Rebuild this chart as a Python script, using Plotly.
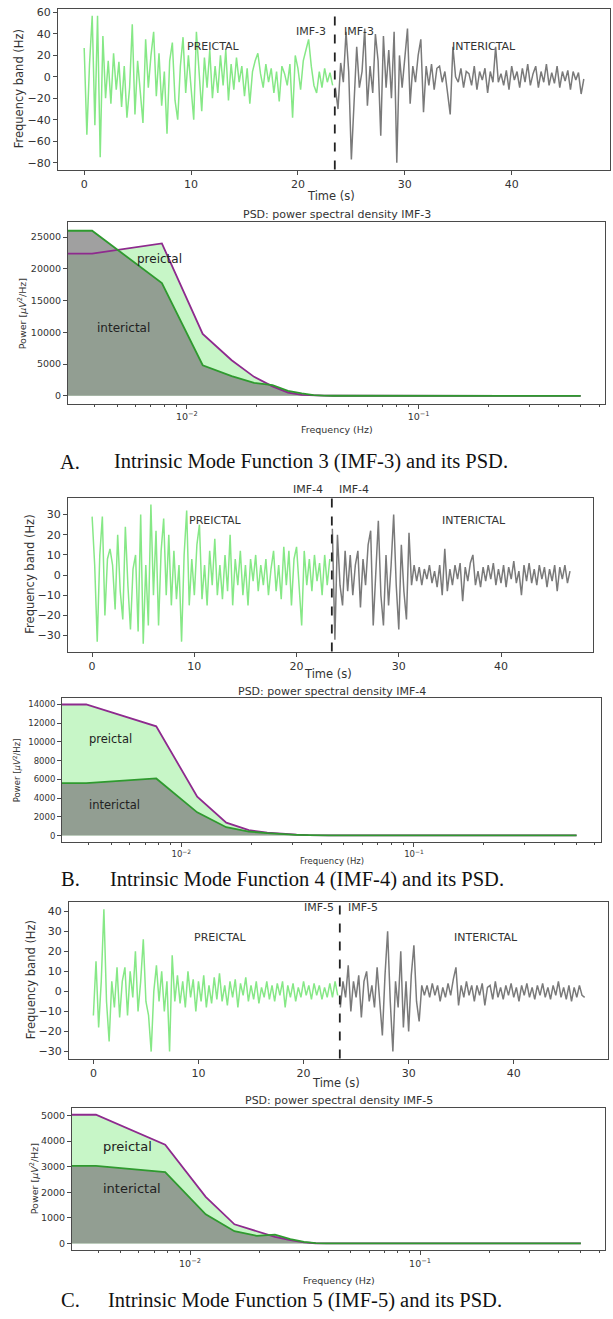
import numpy as np
import plotly.graph_objects as go

W, H = 613, 1319
FONT = "DejaVu Sans"

# ---------------- data ----------------
SAMPLE_STEP = 0.25          # s between samples
PRE_START = 0.0             # s
INTER_START = 23.5          # s
SEIZURE_SPLIT = 23.45       # s (dashed line)

imf3_pre = [27, -54, 12, 57, -45, 57, -75, 38, -20, 15,
            -25, 22, -12, 14, -28, 10, -38, -10, 49, -35,
            15, -12, -43, 35, -10, 20, 42, -18, 22, -27,
            5, -53, 15, 32, -22, -40, 10, 37, -15, 20,
            -8, -40, 42, 5, -32, 18, -10, 25, -20, 10,
            -15, 20, -8, 25, -22, 12, -12, 18, -5, 10,
            -18, 8, -25, 5, 15, 22, 3, -10, 12, -5,
            8, -15, 5, -23, 10, 3, -8, 12, -38, 20,
            8, -12, 15, 25, 35, 10, -8, -15, 5, -10,
            8, -5, 4, -8]
imf3_inter = [-10, -30, 13, -5, 42, 5, -77, -30, 28, -10,
              5, 45, -27, 10, -15, 40, 15, -55, 38, -10,
              25, -20, 42, -80, 20, -10, 15, 45, -25, 10,
              -5, 20, 35, -33, 10, -8, 12, -12, 8, 10,
              -5, 5, -15, -35, 28, 0, -5, 8, -10, 5,
              3, -8, 10, -12, 5, -3, 8, -15, 5, -5,
              28, -5, 3, -8, 6, -12, 10, -3, 5, -10,
              8, -5, 12, -8, 3, 10, -10, 5, -5, 12,
              -8, 4, -6, 10, -10, 5, -4, 6, -12, 5,
              -3, 4, -16, -2]
imf4_pre = [29, 5, -33, 10, 29, -20, 8, 13, 5, -17,
            20, -8, -22, 24, -5, -27, 3, 10, -28, 30,
            -34, 5, -25, 35, -10, 22, -25, 12, 28, -10,
            20, -15, 12, -12, 5, -33, 10, 32, -15, 8,
            -10, 15, 25, -12, 5, -15, 12, -5, 18, -10,
            5, -12, 10, -8, 20, -15, 8, -5, 12, -10,
            5, -15, 8, -3, 10, -8, 5, -5, 8, -10,
            3, 12, -8, 5, -12, 14, -5, 12, -15, 8,
            14, -5, -25, 12, -5, 8, -8, 10, -3, 6,
            -10, 10, -5, 8]
imf4_inter = [23, -32, 20, -5, -15, 12, -8, 10, -10, 5,
              12, -16, 8, -5, 15, 22, -25, 5, 27, -10,
              -25, 10, -15, 5, 30, -5, -27, 15, -8, -22,
              21, -5, 5, -3, 4, -5, 3, -2, 5, -4,
              2, -6, 5, -10, 13, -8, 3, -5, 5, -2,
              6, -13, 4, -3, 6, 10, -5, 2, -6, 4,
              -3, 5, -2, 6, -5, 3, -4, 5, -6, 4,
              -2, 7, -4, 2, -10, 5, -3, 6, -4, 3,
              -5, 5, -2, 4, -6, 3, -3, 5, -8, 4,
              -2, 5, -4, 2]
imf5_pre = [-12, 15, -18, 5, 41, -5, -25, 5, -8, 12,
            -13, 5, 12, -12, 10, -3, 20, -10, 5, 26,
            -5, -12, -30, 0, 13, -5, 10, -10, 5, -30,
            18, -5, 8, -6, 5, -8, 10, -3, 6, -10,
            5, -5, 8, -8, 3, -6, 7, -4, 9, -5,
            3, -7, 5, -3, 6, -8, 4, -2, 7, -5,
            3, -4, 5, -6, 2, -3, 5, -4, 3, -5,
            4, -2, 5, -8, 3, -3, 4, -5, 2, -3,
            5, -2, 3, -4, 4, -2, 3, -4, 2, -3,
            4, -3, 5, -2]
imf5_inter = [-8, 5, -3, 13, -10, 5, -3, 8, -13, 5,
              10, -5, 3, -8, 12, -5, -22, 8, 30, -5,
              -30, 5, -8, 20, -18, 5, -20, 8, 23, -5,
              -15, 3, -2, 3, -3, 4, -2, 3, -5, 2,
              -3, 4, -2, 6, 12, -7, 3, -3, 5, -2,
              3, -5, 3, -2, 4, -7, 2, 3, -4, 5,
              -3, 2, -4, 3, -2, 4, -3, 2, -5, 3,
              -2, 4, -3, 2, -4, 3, -2, 4, -3, 2,
              -4, 3, -2, 5, -3, 2, -4, 3, -5, 2,
              -3, 3, -2, -3]

# PSD (first entry stands in for the DC bin, drawn at the left edge of the log axis)
psd_freq = [0.003, 0.0039, 0.0078, 0.0117, 0.0156, 0.0195, 0.0234, 0.0273,
            0.0313, 0.0352, 0.0391, 0.0430, 0.5]
psd3_pre = [22400, 22400, 24000, 9750, 5600, 2990, 1500, 500, 150, 50, 20, 10, 5]
psd3_inter = [26000, 26000, 17770, 4820, 3090, 2040, 1680, 790, 370, 100, 30, 10, 5]
psd4_pre = [14000, 14000, 11670, 4150, 1380, 570, 320, 180, 100, 50, 30, 20, 10]
psd4_inter = [5600, 5600, 6100, 2480, 890, 430, 250, 140, 80, 40, 25, 15, 10]
psd5_pre = [5030, 5030, 3860, 1820, 750, 480, 260, 130, 40, 10, 5, 3, 2]
psd5_inter = [3030, 3030, 2790, 1140, 480, 300, 350, 170, 60, 15, 5, 3, 2]

time_ticks = [0, 10, 20, 30, 40]
psd_ticks = [0.01, 0.1]
psd_ticktext = ["10<sup>\u22122</sup>", "10<sup>\u22121</sup>"]

# ---------------- styling ----------------
C_PRE = "#86e886"
C_INTER = "#7a7a7a"
C_PURPLE = "#8e2a8e"
C_GREEN = "#2f9a2f"
FILL_PRE = "rgba(144,238,144,0.5)"
FILL_INTER = "rgba(128,128,128,0.75)"
SPINE = "#4a4a4a"
TXT = "#333333"


def xd(l, r):
    return [l / W, r / W]


def yd(t, b):
    return [1 - b / H, 1 - t / H]


def px(x):
    return x / W


def py(y):
    return 1 - y / H


def note(x, y, text, size, color=TXT, family=FONT, angle=0, xanchor="center", xref="paper", yref="paper"):
    return dict(x=x, y=y, xref=xref, yref=yref, text=text, showarrow=False, textangle=angle,
                xanchor=xanchor, yanchor="middle", font=dict(family=family, size=size, color=color))


fig = go.Figure()
annotations = []
shapes = []

time_panels = [
    dict(n=1, pre=imf3_pre, inter=imf3_inter, lbl="IMF-3", xdom=(58, 610), ydom=(6, 167),
         xr=[-2.45, 49.2], yr=[-86.5, 63.3], ytick=list(range(-80, 61, 20)),
         imf_y=42.6, imf_x=(21.2, 25.7), state_y=28, ytitle_x=19, xt_y=193, tfs=11),
    dict(n=3, pre=imf4_pre, inter=imf4_inter, lbl="IMF-4", xdom=(68, 593), ydom=(496, 650),
         xr=[-2.36, 49.0], yr=[-37.9, 38.3], ytick=list(range(-30, 31, 10)),
         imf_y=42.3, imf_x=(21.1, 25.6), state_y=26.9, ytitle_x=30, xt_y=673, tfs=11),
    dict(n=5, pre=imf5_pre, inter=imf5_inter, lbl="IMF-5", xdom=(69, 608), ydom=(901, 1058),
         xr=[-2.32, 48.97], yr=[-33.5, 44.6], ytick=list(range(-30, 41, 10)),
         imf_y=42, imf_x=(21.5, 25.7), state_y=26.7, ytitle_x=31, xt_y=1082, tfs=11),
]

for p in time_panels:
    n = p["n"]
    xa = "x" if n == 1 else f"x{n}"
    ya = "y" if n == 1 else f"y{n}"
    t_pre = PRE_START + SAMPLE_STEP * np.arange(len(p["pre"]))
    t_int = INTER_START + SAMPLE_STEP * np.arange(len(p["inter"]))
    fig.add_trace(go.Scatter(x=t_pre, y=p["pre"], mode="lines", line=dict(color=C_PRE, width=1.5),
                             xaxis=xa, yaxis=ya, showlegend=False))
    fig.add_trace(go.Scatter(x=t_int, y=p["inter"], mode="lines", line=dict(color=C_INTER, width=1.5),
                             xaxis=xa, yaxis=ya, showlegend=False))
    shapes.append(dict(type="line", xref=xa, yref=f"{ya} domain", x0=SEIZURE_SPLIT,
                       x1=SEIZURE_SPLIT, y0=0, y1=1, line=dict(color="#222", width=1.8, dash="dash")))
    axx = dict(domain=xd(*p["xdom"]), range=p["xr"], anchor=ya, tickvals=time_ticks,
               ticks="outside", ticklen=4, tickcolor=SPINE, showline=True, mirror=True,
               linecolor=SPINE, linewidth=1, showgrid=False, zeroline=False,
               tickfont=dict(family=FONT, size=p["tfs"], color=TXT))
    axy = dict(domain=yd(*p["ydom"]), range=p["yr"], anchor=xa, tickvals=p["ytick"],
               ticks="outside", ticklen=4, tickcolor=SPINE, showline=True, mirror=True,
               linecolor=SPINE, linewidth=1, showgrid=False, zeroline=False,
               tickfont=dict(family=FONT, size=p["tfs"], color=TXT))
    fig.update_layout({("xaxis" if n == 1 else f"xaxis{n}"): axx,
                       ("yaxis" if n == 1 else f"yaxis{n}"): axy})
    y0, y1 = p["yr"]
    for xv, txt in [(p["imf_x"][0], p["lbl"]), (p["imf_x"][1], p["lbl"]),
                    (12.1, "PREICTAL"), (37.4, "INTERICTAL")]:
        yv = p["imf_y"] if txt == p["lbl"] else p["state_y"]
        annotations.append(note(xv, (yv - y0) / (y1 - y0), txt, 11, xref=xa, yref=f"{ya} domain"))
    cx = (p["xdom"][0] + p["xdom"][1]) / 2
    cy = (p["ydom"][0] + p["ydom"][1]) / 2
    annotations.append(note(px(p["ytitle_x"]), py(cy), "Frequency band (Hz)", 11.5, angle=-90))
    annotations.append(note(px(cx - 3), py(p["xt_y"]), "Time (s)", 11.5))

minor_vals = [k * 10.0 ** e for e in (-3, -2, -1) for k in range(2, 10)]

psd_panels = [
    dict(n=2, pre=psd3_pre, inter=psd3_inter, lbl="IMF-3", xdom=(68, 605), ydom=(220, 402),
         yr=[-1300, 27300], ydt=5000, title_y=212, xl_y=427, ytitle_x=22, fs=9.5,
         pre_lbl=(0.00597, 21600), int_lbl=(0.00401, 10700), lfs=12),
    dict(n=4, pre=psd4_pre, inter=psd4_inter, lbl="IMF-4", xdom=(62, 601), ydom=(697, 841),
         yr=[-700, 14650], ydt=2000, title_y=690, xl_y=860, ytitle_x=17, fs=8.5,
         pre_lbl=(0.00392, 10280), int_lbl=(0.00392, 3260), lfs=11.5),
    dict(n=6, pre=psd5_pre, inter=psd5_inter, lbl="IMF-5", xdom=(72, 605), ydom=(1108, 1250),
         yr=[-260, 5275], ydt=1000, title_y=1100, xl_y=1280, ytitle_x=34, fs=9.5,
         pre_lbl=(0.00412, 3800), int_lbl=(0.00412, 2140), lfs=13),
]

for p in psd_panels:
    n = p["n"]
    xa, ya = f"x{n}", f"y{n}"
    fig.add_trace(go.Scatter(x=psd_freq, y=p["pre"], mode="none", fill="tozeroy",
                             fillcolor=FILL_PRE, xaxis=xa, yaxis=ya, showlegend=False))
    fig.add_trace(go.Scatter(x=psd_freq, y=p["inter"], mode="none", fill="tozeroy",
                             fillcolor=FILL_INTER, xaxis=xa, yaxis=ya, showlegend=False))
    fig.add_trace(go.Scatter(x=psd_freq, y=p["pre"], mode="lines", line=dict(color=C_PURPLE, width=1.8),
                             xaxis=xa, yaxis=ya, showlegend=False))
    fig.add_trace(go.Scatter(x=psd_freq, y=p["inter"], mode="lines", line=dict(color=C_GREEN, width=1.8),
                             xaxis=xa, yaxis=ya, showlegend=False))
    axx = dict(domain=xd(*p["xdom"]), type="log", range=[-2.513, -0.196], anchor=ya,
               tickvals=psd_ticks, ticktext=psd_ticktext, ticks="outside", ticklen=4,
               tickcolor=SPINE, showline=True, mirror=True, linecolor=SPINE, linewidth=1,
               showgrid=False, zeroline=False, tickfont=dict(family=FONT, size=p["fs"], color=TXT),
               minor=dict(tickvals=minor_vals, ticks="outside", ticklen=2, tickcolor=SPINE, showgrid=False))
    axy = dict(domain=yd(*p["ydom"]), range=p["yr"], anchor=xa, dtick=p["ydt"], tick0=0,
               tickformat="d", ticks="outside", ticklen=4, tickcolor=SPINE, showline=True, mirror=True,
               linecolor=SPINE, linewidth=1, showgrid=False, zeroline=False,
               tickfont=dict(family=FONT, size=p["fs"], color=TXT))
    fig.update_layout({f"xaxis{n}": axx, f"yaxis{n}": axy})
    cx = (p["xdom"][0] + p["xdom"][1]) / 2
    cy = (p["ydom"][0] + p["ydom"][1]) / 2
    annotations.append(note(px(cx), py(p["title_y"]), f"PSD: power spectral density {p['lbl']}", 11))
    annotations.append(note(px(cx), py(p["xl_y"]), "Frequency (Hz)", p["fs"]))
    annotations.append(note(px(p["ytitle_x"]), py(cy), "Power [<i>\u03bcV</i><sup>2</sup>/Hz]",
                            p["fs"], angle=-90))
    for (fx, fy), txt in [(p["pre_lbl"], "preictal"), (p["int_lbl"], "interictal")]:
        annotations.append(note(np.log10(fx), fy, txt, p["lfs"], color="#222", xanchor="left",
                                xref=xa, yref=ya))

captions = [("A.", "Intrinsic Mode Function 3 (IMF-3) and its PSD.", 460, 58, 112),
            ("B.", "Intrinsic Mode Function 4 (IMF-4) and its PSD.", 878, 59, 108),
            ("C.", "Intrinsic Mode Function 5 (IMF-5) and its PSD.", 1300, 59, 106)]
for lab, txt, yy, x0, x1 in captions:
    for xx, tt in [(x0, lab), (x1, txt)]:
        annotations.append(note(px(xx), py(yy), tt, 20.5, color="#111",
                                family="Liberation Serif", xanchor="left"))

fig.update_layout(width=W, height=H, margin=dict(l=0, r=0, t=0, b=0),
                  paper_bgcolor="white", plot_bgcolor="white",
                  annotations=annotations, shapes=shapes, showlegend=False)
fig.write_html("out.html", config={"displayModeBar": False},
               post_script="document.body.style.margin='0';document.body.style.overflow='hidden';")
